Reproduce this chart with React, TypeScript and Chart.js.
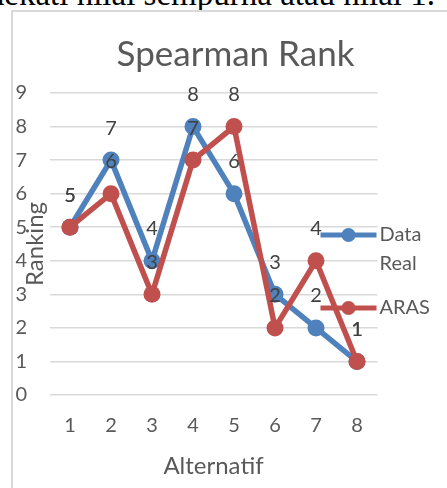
import React, { useEffect, useRef } from "react";
import { Chart, registerables } from "chart.js";

Chart.register(...registerables);

const categories = ["1", "2", "3", "4", "5", "6", "7", "8"];
const dataReal = [5, 7, 4, 8, 6, 3, 2, 1];
const aras = [5, 6, 3, 7, 8, 2, 4, 1];
const seriesNames = ["Data Real", "ARAS"];
const chartTitle = "Spearman Rank";
const xTitle = "Alternatif";
const yTitle = "Ranking";
const topText = "mendekati nilai sempurna atau nilai 1.";

const BLUE = "#4F81BD";
const RED = "#C0504D";
const FONT = "Lato, 'Open Sans', sans-serif";

const dataLabelPlugin = {
  id: "dataLabels",
  afterDatasetsDraw(chart: any) {
    const ctx = chart.ctx;
    ctx.save();
    ctx.font = `20px ${FONT}`;
    ctx.fillStyle = "#404040";
    ctx.textAlign = "center";
    ctx.textBaseline = "middle";
    chart.data.datasets.forEach((ds: any, i: number) => {
      const meta = chart.getDatasetMeta(i);
      meta.data.forEach((pt: any, j: number) => {
        ctx.fillText(String(ds.data[j]), pt.x, pt.y - 32);
      });
    });
    ctx.restore();
  },
};

const legendPlugin = {
  id: "customLegend",
  afterDraw(chart: any) {
    const ctx = chart.ctx;
    const a = chart.chartArea;
    const items = [
      { color: BLUE, lines: ["Data", "Real"], y: a.top + 142 },
      { color: RED, lines: ["ARAS"], y: a.top + 215 },
    ];
    ctx.save();
    items.forEach((it) => {
      ctx.strokeStyle = it.color;
      ctx.lineWidth = 5;
      ctx.beginPath();
      ctx.moveTo(a.right - 57, it.y);
      ctx.lineTo(a.right - 1, it.y);
      ctx.stroke();
      ctx.fillStyle = it.color;
      ctx.beginPath();
      ctx.arc(a.right - 29, it.y, 7, 0, Math.PI * 2);
      ctx.fill();
      ctx.fillStyle = "#595959";
      ctx.font = `20px ${FONT}`;
      ctx.textAlign = "left";
      ctx.textBaseline = "middle";
      it.lines.forEach((t, k) => {
        ctx.fillText(t, a.right + 2, it.y + k * 29);
      });
    });
    ctx.restore();
  },
};

function ChartView() {
  const ref = useRef<HTMLCanvasElement>(null);
  useEffect(() => {
    if (!ref.current) return;
    const chart = new Chart(ref.current, {
      type: "line",
      data: {
        labels: categories,
        datasets: [
          {
            label: seriesNames[0],
            data: dataReal,
            borderColor: BLUE,
            backgroundColor: BLUE,
            borderWidth: 5.5,
            pointRadius: 8.5,
            pointHoverRadius: 8.5,
            pointBorderWidth: 0,
            tension: 0,
            order: 1,
          },
          {
            label: seriesNames[1],
            data: aras,
            borderColor: RED,
            backgroundColor: RED,
            borderWidth: 5.5,
            pointRadius: 8.5,
            pointHoverRadius: 8.5,
            pointBorderWidth: 0,
            tension: 0,
            order: 0,
          },
        ],
      },
      options: {
        animation: false,
        responsive: false,
        maintainAspectRatio: false,
        layout: { padding: { left: 0, right: 0, top: 0, bottom: 7.4 } },
        plugins: {
          legend: { display: false },
          tooltip: { enabled: false },
          title: {
            display: true,
            text: chartTitle,
            color: "#595959",
            font: { family: FONT, size: 35, weight: "normal" },
            padding: { top: 21.5, bottom: 17.5 },
          },
        },
        scales: {
          x: {
            offset: true,
            grid: { display: false, drawTicks: false },
            border: { display: false },
            ticks: {
              color: "#595959",
              font: { family: FONT, size: 20 },
              padding: 19,
              maxRotation: 0,
            },
            title: {
              display: true,
              text: xTitle,
              color: "#595959",
              font: { family: FONT, size: 24 },
              padding: { top: 0, bottom: 0 },
            },
            afterFit(scale: any) {
              scale.height = 85.6;
            },
          },
          y: {
            min: 0,
            max: 9,
            ticks: {
              stepSize: 1,
              color: "#595959",
              font: { family: FONT, size: 20 },
              padding: 22.5,
            },
            grid: { color: "#d9d9d9", lineWidth: 1.5, drawTicks: false },
            border: { display: false },
            title: {
              display: true,
              text: yTitle,
              color: "#595959",
              font: { family: FONT, size: 24 },
              padding: { top: 8.6, bottom: 0 },
            },
            afterFit(scale: any) {
              scale.width = 37.5;
            },
          },
          yRight: {
            position: "right",
            min: 0,
            max: 9,
            ticks: { display: false },
            grid: { display: false, drawTicks: false },
            border: { display: false },
            afterFit(scale: any) {
              scale.width = 81.5;
            },
          },
        },
      },
      plugins: [dataLabelPlugin, legendPlugin],
    } as any);
    return () => chart.destroy();
  }, []);
  return (
    <canvas
      ref={ref}
      width={447}
      height={476}
      style={{ position: "absolute", left: 12, top: 12, width: 447, height: 476 }}
    />
  );
}

export default function App() {
  return (
    <div
      style={{
        position: "fixed",
        left: 0,
        top: 0,
        width: 447,
        height: 488,
        overflow: "hidden",
        background: "#ffffff",
      }}
    >
      <div
        style={{
          position: "absolute",
          right: 12,
          top: -21.6,
          fontFamily: "'Liberation Serif', 'Times New Roman', serif",
          fontSize: 33,
          lineHeight: "33px",
          whiteSpace: "nowrap",
          color: "#000",
        }}
      >
        {topText}
      </div>
      <div
        style={{
          position: "absolute",
          left: 11,
          top: 10,
          width: 460,
          height: 500,
          borderLeft: "2px solid #d9d9d9",
          borderTop: "2px solid #d9d9d9",
          boxSizing: "border-box",
        }}
      />
      <ChartView />
    </div>
  );
}
